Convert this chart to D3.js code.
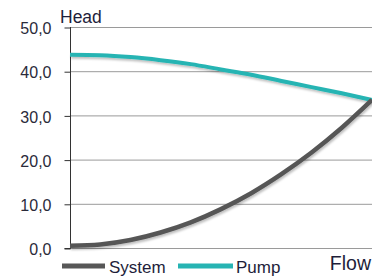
<!DOCTYPE html>
<html><head><meta charset="utf-8">
<script src="https://cdn.jsdelivr.net/npm/d3@7"></script>
<style>body{margin:0;background:#fff}svg{display:block;font-family:"Liberation Sans",Arial,sans-serif}</style>
</head><body>
<svg id="c" width="372" height="280"></svg>
<script>
const flow = [0,1,2,3,4,5,6,7,8,9,10];
const systemHead = [0.5,0.8,1.8,3.5,5.8,8.8,12.4,16.7,21.6,27.2,33.5];
const pumpHead = [43.7,43.6,43.2,42.5,41.6,40.4,39.2,37.8,36.4,35.0,33.5];
const yTicks = [0,10,20,30,40,50];
const yTickLabels = ["0,0","10,0","20,0","30,0","40,0","50,0"];
const seriesNames = ["System","Pump"];
const colors = {System:"#575757", Pump:"#27b4b3"};

const svg = d3.select("#c");
const x = d3.scaleLinear().domain([0,10]).range([70,372]);
const y = d3.scaleLinear().domain([0,50]).range([248,27]);

const defs = svg.append("defs");
const f = defs.append("filter").attr("id","sh").attr("x","-10%").attr("y","-10%").attr("width","120%").attr("height","130%");
f.append("feDropShadow").attr("dx",1).attr("dy",2).attr("stdDeviation",1.2).attr("flood-color","#000").attr("flood-opacity",0.25);

// gridlines
svg.append("g").selectAll("line").data(yTicks).join("line")
  .attr("x1",70).attr("x2",372).attr("y1",d=>y(d)+0.5).attr("y2",d=>y(d)+0.5)
  .attr("stroke","#9a9a9a").attr("stroke-width",1);

// y axis
const ax = svg.append("g").attr("transform","translate(70.5,0)")
  .call(d3.axisLeft(y).tickValues(yTicks).tickFormat((d,i)=>yTickLabels[i]).tickSize(6).tickPadding(13));
ax.select(".domain").attr("stroke","#333").attr("d","M0,"+y(50)+"V"+(y(0)+0.5)+"h-6");
ax.selectAll(".tick line").attr("stroke","#333").attr("transform","translate(0,0.5)");
ax.selectAll(".tick text").attr("font-size",16).attr("fill","#2a2a3a").attr("font-family","Liberation Sans, Arial, sans-serif").attr("dy","0.42em");

const line = (vals)=>d3.line().x((d,i)=>x(flow[i])).y(d=>y(d)).curve(d3.curveMonotoneX)(vals);

svg.append("path").attr("d",line(pumpHead)).attr("fill","none").attr("stroke",colors.Pump).attr("stroke-width",4).attr("filter","url(#sh)");
svg.append("path").attr("d",line(systemHead)).attr("fill","none").attr("stroke",colors.System).attr("stroke-width",4.5).attr("filter","url(#sh)");

// axis titles
svg.append("text").attr("x",60).attr("y",23).attr("font-size",17.5).attr("fill","#1e1e3a").text("Head");
svg.append("text").attr("x",371).attr("y",270).attr("text-anchor","end").attr("font-size",19.5).attr("fill","#1e1e3a").text("Flow");

// legend
const leg = [{n:seriesNames[0],x1:62,x2:105,tx:109},{n:seriesNames[1],x1:178,x2:233,tx:236}];
const lg = svg.append("g");
lg.selectAll("line").data(leg).join("line").attr("x1",d=>d.x1).attr("x2",d=>d.x2).attr("y1",266).attr("y2",266)
  .attr("stroke",d=>colors[d.n]).attr("stroke-width",5);
lg.selectAll("text").data(leg).join("text").attr("x",d=>d.tx).attr("y",273).attr("font-size",17).attr("fill","#1e1e3a").text(d=>d.n);
</script>
</body></html>
